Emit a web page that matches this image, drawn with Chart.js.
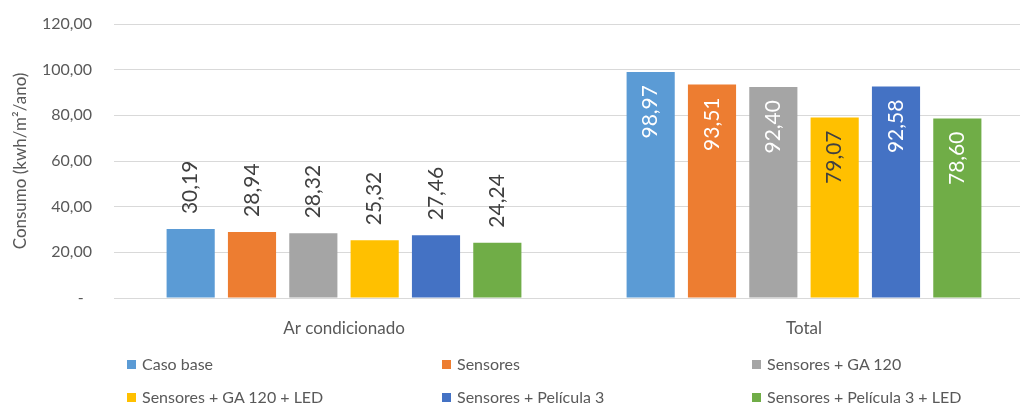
<!DOCTYPE html>
<html>
<head>
<meta charset="utf-8">
<script src="https://cdn.jsdelivr.net/npm/chart.js@4.4.0/dist/chart.umd.min.js"></script>
<style>
  body { margin: 0; background: #fff; overflow: hidden; font-family: Lato, sans-serif; }
  #wrap { position: relative; width: 1040px; height: 407px; }
  #legend { position: absolute; left: 0; top: 0; width: 1020px; height: 407px; pointer-events: none; }
  .item { position: absolute; font-size: 16px; color: #595959; white-space: nowrap; line-height: 20px; }
  .item span.sw { display: inline-block; width: 9px; height: 9px; margin-right: 6px; vertical-align: 1px; }
</style>
</head>
<body>
<div id="wrap">
  <canvas id="chart"></canvas>
  <div id="legend"></div>
</div>
<script>
// categorias e series
const categorias = ['Ar condicionado', 'Total'];
const nomesSeries = ['Caso base', 'Sensores', 'Sensores + GA 120', 'Sensores + GA 120 + LED', 'Sensores + Película 3', 'Sensores + Película 3 + LED'];
const casoBase = [30.19, 98.97];
const sensores = [28.94, 93.51];
const sensoresGA = [28.32, 92.40];
const sensoresGALed = [25.32, 79.07];
const sensoresPel = [27.46, 92.58];
const sensoresPelLed = [24.24, 78.60];
const valores = [casoBase, sensores, sensoresGA, sensoresGALed, sensoresPel, sensoresPelLed];
const cores = ['#5B9BD5', '#ED7D31', '#A5A5A5', '#FFC000', '#4472C4', '#70AD47'];
const ticksY = [0, 20, 40, 60, 80, 100, 120];

const fmt = v => v.toFixed(2).replace('.', ',');
const FONT = 'Lato, sans-serif';

// rotulos de dados verticais
const rotulos = {
    id: 'rotulos',
    afterDatasetsDraw(chart) {
        const ctx = chart.ctx;
        ctx.save();
        ctx.font = '21px ' + FONT;
        ctx.textBaseline = 'middle';
        chart.data.datasets.forEach((ds, i) => {
            const meta = chart.getDatasetMeta(i);
            meta.data.forEach((bar, j) => {
                const txt = fmt(ds.data[j]);
                ctx.save();
                ctx.translate(bar.x, bar.y);
                ctx.rotate(-Math.PI / 2);
                if (j === 0) {
                    ctx.fillStyle = '#404040';
                    ctx.textAlign = 'left';
                    ctx.fillText(txt, 15, 0);
                } else {
                    ctx.fillStyle = i === 3 ? '#404040' : '#ffffff';
                    ctx.textAlign = 'right';
                    ctx.fillText(txt, -13, 0);
                }
                ctx.restore();
            });
        });
        ctx.restore();
    }
};

const ctx = document.getElementById('chart').getContext('2d');
new Chart(ctx, {
    type: 'bar',
    data: {
        labels: categorias,
        datasets: valores.map((v, i) => ({
            label: nomesSeries[i],
            data: v,
            backgroundColor: cores[i],
            categoryPercentage: 0.8,
            barPercentage: 0.785
        }))
    },
    options: {
        responsive: true,
        maintainAspectRatio: false,
        animation: false,
        layout: { padding: { top: 24, right: 6, left: 0, bottom: 0 } },
        plugins: { legend: { display: false }, tooltip: { enabled: false } },
        scales: {
            x: {
                grid: { display: false },
                border: { display: false },
                ticks: { color: '#595959', font: { family: FONT, size: 17 }, padding: 12 },
                afterFit(scale) { scale.height = 109; }
            },
            y: {
                min: 0, max: 120,
                afterBuildTicks(scale) { scale.ticks = ticksY.map(v => ({ value: v })); },
                grid: { color: '#D9D9D9', drawTicks: false },
                border: { display: false },
                ticks: {
                    color: '#595959', font: { family: FONT, size: 16 }, padding: 22,
                    callback: v => v === 0 ? '-  ' : fmt(v)
                },
                title: {
                    display: true, text: 'Consumo (kwh/m²/ano)', color: '#595959',
                    font: { family: FONT, size: 17 }, padding: { top: 10, bottom: 0 }
                },
                afterFit(scale) {
                    scale.width = 114;
                    scale.paddingTop = 0;
                    scale.paddingBottom = 0;
                }
            }
        }
    },
    plugins: [rotulos]
});

// legenda em 3 colunas
const legenda = document.getElementById('legend');
const colX = [127, 442, 752];
const rowY = [354, 387];
nomesSeries.forEach((n, i) => {
    const d = document.createElement('div');
    d.className = 'item';
    d.style.left = colX[i % 3] + 'px';
    d.style.top = rowY[Math.floor(i / 3)] + 'px';
    d.innerHTML = '<span class="sw" style="background:' + cores[i] + '"></span>' + n;
    legenda.appendChild(d);
});
</script>
</body>
</html>
